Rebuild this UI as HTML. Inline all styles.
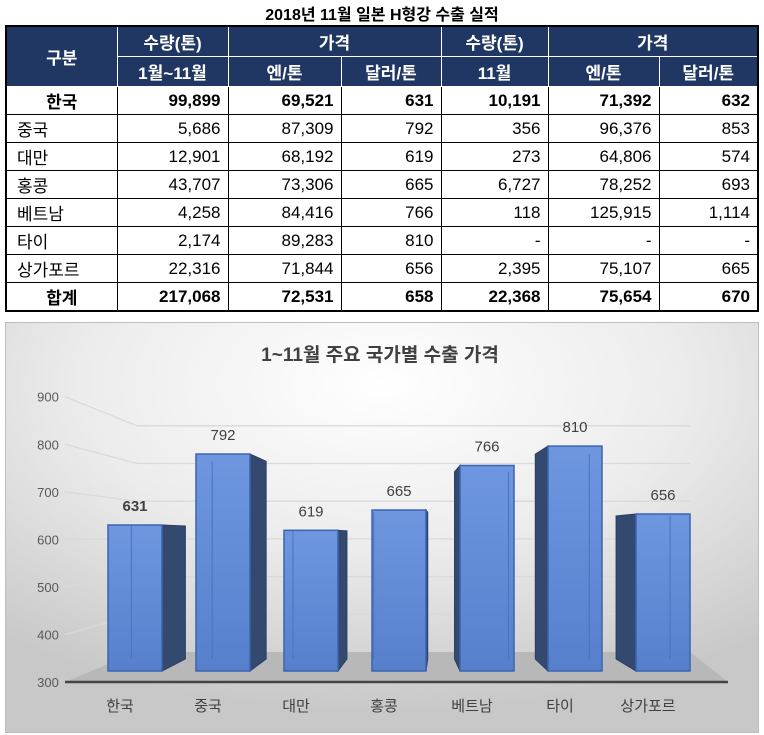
<!DOCTYPE html>
<html><head><meta charset="utf-8">
<style>
body{margin:0;width:764px;height:735px;background:#fff;font-family:"Liberation Sans","Noto Sans CJK KR",sans-serif;position:relative;overflow:hidden}
#title{position:absolute;left:0;top:1px;width:764px;text-align:center;font-weight:bold;font-size:16px;color:#000}
table{position:absolute;left:5px;top:25px;border-collapse:collapse;font-size:17px}
td,th{border:1px solid #000;padding:0 7px;height:27px}
th{background:#203764;color:#fff;font-weight:bold;font-size:17px;text-align:center;border-color:#fff;height:29px}
td{text-align:right}
td.n{text-align:left;padding-left:10px}
tr.b td{font-weight:bold}
tr.b td.n{text-align:center;padding-left:7px}
table{border:2px solid #000}
#chart{position:absolute;left:5px;top:322px}
</style></head><body>
<div id="title">2018년 11월 일본 H형강 수출 실적</div>
<table>
<colgroup><col style="width:111px"><col style="width:111px"><col style="width:113px"><col style="width:100px"><col style="width:107px"><col style="width:111px"><col style="width:99px"></colgroup>
<tr><th rowspan="2">구분</th><th>수량(톤)</th><th colspan="2">가격</th><th>수량(톤)</th><th colspan="2">가격</th></tr>
<tr><th>1월~11월</th><th>엔/톤</th><th>달러/톤</th><th>11월</th><th>엔/톤</th><th>달러/톤</th></tr>
<tr class="b"><td class="n">한국</td><td>99,899</td><td>69,521</td><td>631</td><td>10,191</td><td>71,392</td><td>632</td></tr>
<tr><td class="n">중국</td><td>5,686</td><td>87,309</td><td>792</td><td>356</td><td>96,376</td><td>853</td></tr>
<tr><td class="n">대만</td><td>12,901</td><td>68,192</td><td>619</td><td>273</td><td>64,806</td><td>574</td></tr>
<tr><td class="n">홍콩</td><td>43,707</td><td>73,306</td><td>665</td><td>6,727</td><td>78,252</td><td>693</td></tr>
<tr><td class="n">베트남</td><td>4,258</td><td>84,416</td><td>766</td><td>118</td><td>125,915</td><td>1,114</td></tr>
<tr><td class="n">타이</td><td>2,174</td><td>89,283</td><td>810</td><td>-</td><td>-</td><td>-</td></tr>
<tr><td class="n">상가포르</td><td>22,316</td><td>71,844</td><td>656</td><td>2,395</td><td>75,107</td><td>665</td></tr>
<tr class="b"><td class="n">합계</td><td>217,068</td><td>72,531</td><td>658</td><td>22,368</td><td>75,654</td><td>670</td></tr>
</table>
<svg id="chart" width="754" height="411" viewBox="5 322 754 411">
<defs>
<radialGradient id="bg" cx="0.5" cy="0.15" r="0.8"><stop offset="0" stop-color="#ffffff"/><stop offset="0.5" stop-color="#ececec"/><stop offset="1" stop-color="#c8c8c8"/></radialGradient>
<linearGradient id="front" x1="0" y1="0" x2="0" y2="1"><stop offset="0" stop-color="#6e97e0"/><stop offset="1" stop-color="#5680cc"/></linearGradient>
</defs>
<rect x="5.5" y="322.5" width="753" height="410" fill="url(#bg)" stroke="#bdbdbd"/>
<text x="380" y="361" text-anchor="middle" font-size="19" font-weight="bold" fill="#404040">1~11월 주요 국가별 수출 가격</text>
<polygon points="65,682 137,652 690,652 728,682" fill="#b8b8b8"/>
<g id="grid"></g>
<line x1="65" y1="682" x2="728" y2="682" stroke="#444" stroke-width="2.5"/>
<g id="bars"></g>
<g id="labels"></g>
</svg>
<script>
const categories=["한국","중국","대만","홍콩","베트남","타이","상가포르"];
const values=[631,792,619,665,766,810,656];
const ticks=[300,400,500,600,700,800,900];
const NS="http://www.w3.org/2000/svg";
function yFront(v){return 671-(v-300)*0.441;}
function yLabel(v){return 682-(v-300)*0.4755;}
function yBack(v){return 652-(v-300)*0.377;}
function xCenter(i){return 135+88*i;}
function mk(tag,attrs,parent){const e=document.createElementNS(NS,tag);for(const k in attrs)e.setAttribute(k,attrs[k]);parent.appendChild(e);return e;}
const grid=document.getElementById('grid'),bars=document.getElementById('bars'),labels=document.getElementById('labels');
ticks.forEach(t=>{
  if(t>300){
    const p=mk('polyline',{points:`65,${yLabel(t)} 137,${yBack(t)} 690,${yBack(t)}`,fill:'none',stroke:'#dadada','stroke-width':1.3},grid);
    
    
  }
  const tx=mk('text',{x:48,y:yLabel(t)+5,'text-anchor':'middle','font-size':13,fill:'#595959'},labels);
  tx.textContent=t;
  
  
});
values.forEach((v,i)=>{
  const cx=xCenter(i),w=54,x0=cx-w/2,x1=cx+w/2,top=yFront(v),bot=671;
  const d=(420-cx)*0.082;
  const off=y=>-0.089*(y-536);
  const g=mk('g',{},bars);
  
  
  const ex=d>=0?x1:x0;
  mk('polygon',{points:`${ex},${top} ${ex+d},${top+off(top)} ${ex+d},${bot+off(bot)} ${ex},${bot}`,fill:'#34496e',stroke:'#2a3f66','stroke-width':1},g);
  mk('rect',{x:x0,y:top,width:w,height:bot-top,fill:'url(#front)',stroke:'#3b63b0','stroke-width':1.5},g);
  const lx=d>=0?x0+Math.abs(d):x1-Math.abs(d);
  mk('line',{x1:lx,y1:top+Math.abs(off(top)),x2:lx,y2:bot-12,stroke:'#4a72c0','stroke-width':1},g);
  const lt=mk('text',{x:cx,y:top-14,'text-anchor':'middle','font-size':15,fill:'#404040','font-weight':i===0?'bold':'normal'},labels);
  lt.textContent=v;
  
  
  const ct=mk('text',{x:cx-15,y:711,'text-anchor':'middle','font-size':15,fill:'#404040'},labels);
  ct.textContent=categories[i];
  
  
});
</script>
</body></html>
